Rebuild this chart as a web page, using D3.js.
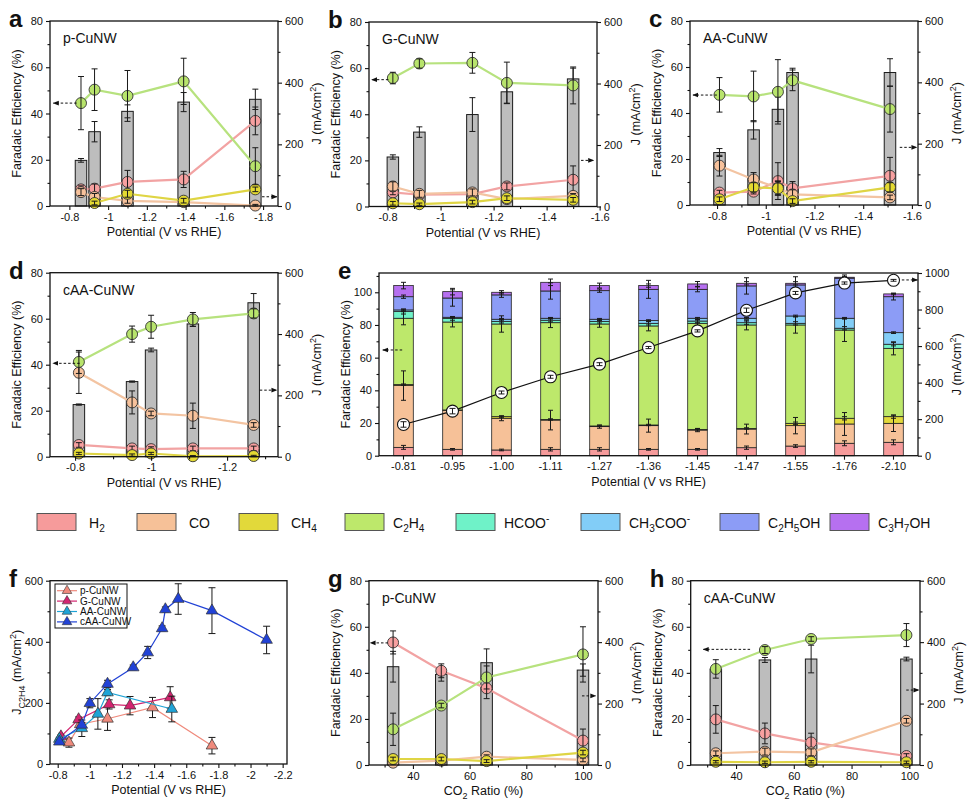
<!DOCTYPE html>
<html>
<head>
<meta charset="utf-8">
<script src="https://cdn.jsdelivr.net/npm/d3@7"></script>
<style>
  body { margin: 0; background: #fff; }
  text { font-family: "Liberation Sans", Arial, sans-serif; fill: #111; }
</style>
</head>
<body>
<svg id="fig" width="974" height="812"></svg>
<script>
// ---- data ----
const FE_KEYS = ["H2", "CO", "CH4", "C2H4"];
const PRODUCTS = ["H2", "CO", "CH4", "C2H4", "HCOO", "CH3COO", "C2H5OH", "C3H7OH"];
const PRODUCT_LABELS = ["H_2", "CO", "CH_4", "C_2H_4", "HCOO^-", "CH_3COO^-", "C_2H_5OH", "C_3H_7OH"];

// a: p-CuNW
const aPot = [-0.86, -0.93, -1.10, -1.39, -1.76];
const aJ = [148, 241, 307, 337, 346];
const aJErr = [6, 33, 21, 31, 33];
const aH2 = [7.2, 7.5, 10.4, 11.5, 36.8];
const aH2Err = [1.5, 2, 5, 3.5, 6];
const aCO = [6.0, 3.9, 2.2, 1.7, 0.2];
const aCOErr = [1.5, 1.5, 1, 1, 0.5];
const aCH4 = [null, 1.3, 5.3, 2.3, 7.2];
const aCH4Err = [0, 0.8, 1.5, 1, 1];
const aC2H4 = [44.5, 50.3, 47.6, 53.9, 17.2];
const aC2H4Err = [11.5, 9, 11, 10, 8];

// b: G-CuNW
const bPot = [-0.82, -0.92, -1.12, -1.25, -1.50];
const bJ = [161, 242, 299, 373, 415];
const bJErr = [7, 17, 55, 37, 35];
const bH2 = [6.1, 5.1, 5.4, 8.7, 11.6];
const bH2Err = [1, 1, 1, 1.5, 6];
const bCO = [8.7, 5.5, 6.1, 3.2, 4.6];
const bCOErr = [2, 1.5, 1.5, 1, 1];
const bCH4 = [1.4, 1.0, 1.9, 3.6, 2.9];
const bCH4Err = [0.8, 0.5, 0.8, 1, 1];
const bC2H4 = [55.7, 62.0, 62.3, 53.6, 52.5];
const bC2H4Err = [2.5, 2, 4.5, 9, 8];

// c: AA-CuNW
const cPot = [-0.81, -0.95, -1.05, -1.11, -1.51];
const cJ = [171, 245, 312, 432, 432];
const cJErr = [13, 30, 40, 14, 45];
const cH2 = [5.4, 5.8, 10.4, 7.2, 12.7];
const cH2Err = [1, 1, 8, 3, 8];
const cCO = [17.1, 11.1, 7.5, 4.6, 3.3];
const cCOErr = [4.5, 3, 3, 2, 1];
const cCH4 = [2.5, 7.7, 7.2, 1.7, 7.7];
const cCH4Err = [1, 2, 3, 1, 2];
const cC2H4 = [47.9, 47.2, 49.2, 54.2, 41.7];
const cC2H4Err = [7.5, 11, 14, 4.5, 10];

// d: cAA-CuNW
const dPot = [-0.81, -0.95, -1.00, -1.11, -1.27];
const dJ = [170, 245, 348, 433, 502];
const dJErr = [2, 2, 6, 8, 30];
const dH2 = [5.1, 3.6, 3.3, 3.6, 3.6];
const dH2Err = [1, 1, 1, 1, 1];
const dCO = [36.5, 23.6, 18.8, 17.8, 13.8];
const dCOErr = [9, 5, 1, 5.5, 1];
const dCH4 = [1.4, 0.7, 1.4, 0.2, 0.3];
const dCH4Err = [0.5, 0.5, 0.5, 0.3, 0.3];
const dC2H4 = [41.2, 53.3, 56.5, 59.7, 62.3];
const dC2H4Err = [5, 3.5, 5, 3, 2];

// e: cAA-CuNW full product distribution
const ePot = ["-0.81", "-0.95", "-1.00", "-1.11", "-1.27", "-1.36", "-1.45", "-1.47", "-1.55", "-1.76", "-2.10"];
const eH2 = [5.1, 3.9, 3.5, 3.9, 3.9, 3.9, 3.9, 4.9, 5.9, 7.6, 8.2];
const eCO = [37.8, 23.7, 19.4, 17.9, 13.9, 14.5, 11.8, 11.4, 12.5, 11.8, 11.6];
const eCH4 = [0.6, 0.4, 1.0, 0.4, 0.4, 0.4, 0.4, 0.4, 1.4, 3.5, 4.1];
const eC2H4 = [40.6, 53.8, 56.7, 59.2, 62.4, 60.6, 64.9, 63.3, 60.2, 54.0, 41.8];
const eHCOO = [4.1, 2.1, 1.6, 1.5, 1.6, 1.6, 1.4, 1.4, 1.0, 1.1, 2.5];
const eCH3COO = [1.0, 0.8, 1.3, 1.2, 1.3, 1.7, 1.7, 2.7, 4.5, 6.1, 7.1];
const eC2H5OH = [8.1, 11.8, 14.9, 16.7, 17.5, 19.1, 17.7, 19.8, 19.0, 24.5, 22.0];
const eC3H7OH = [6.8, 3.9, 1.6, 5.3, 3.1, 2.3, 3.3, 1.6, 1.0, 0.6, 1.7];
const eH2Err = [1.2, 0.5, 0.5, 1, 1, 0.5, 0.5, 1, 0.8, 1.5, 1.5];
const eCOErr = [9, 2.5, 1.5, 6, 1, 4, 1, 3, 5, 7, 5];
const eCH4Err = [0.4, 0.4, 0.4, 0.4, 0.4, 0.4, 0.4, 0.4, 0.8, 1, 1];
const eC2H4Err = [4, 3, 5, 3, 2, 3, 2, 3, 5, 7, 4];
const eHCOOErr = [1.5, 1, 1, 1, 1, 1, 1, 1, 1, 1, 1];
const eCH3COOErr = [0.5, 0.5, 0.5, 0.5, 0.5, 0.5, 0.5, 0.5, 0.5, 0.5, 0.5];
const eC2H5OHErr = [1, 5, 1.5, 5, 1, 5.5, 1.5, 5, 5, 2, 2];
const eC3H7OHErr = [2, 2, 1, 2, 1.5, 1, 1.5, 1, 1, 0.5, 0.5];
const eJ = [171, 244, 346, 432, 501, 592, 683, 796, 891, 945, 960];
const eJErr = [15, 15, 8, 8, 8, 6, 6, 12, 8, 6, 5];

// f: partial current density of C2H4
const fpPot = [-0.87, -0.94, -1.11, -1.39, -1.76];
const fpJ = [70, 130, 148, 185, 60];
const fpErr = [15, 8, 38, 33, 27];
const fgPot = [-0.82, -0.93, -1.12, -1.25, -1.50];
const fgJ = [90, 146, 195, 191, 218];
const fgErr = [5, 8, 15, 30, 35];
const faPot = [-0.81, -0.95, -1.05, -1.11, -1.51];
const faJ = [82, 117, 164, 234, 180];
const faErr = [5, 27, 50, 10, 42];
const fcPot = [-0.81, -0.95, -1.00, -1.11, -1.27, -1.36, -1.45, -1.47, -1.55, -1.76, -2.10];
const fcJ = [73, 128, 199, 262, 316, 365, 444, 506, 540, 502, 406];
const fcErr = [5, 8, 15, 12, 8, 20, 8, 8, 50, 75, 45];

// g: p-CuNW vs CO2 ratio
const gRatio = [33, 50, 66, 100];
const gJ = [320, 295, 333, 309];
const gJErr = [50, 22, 45, 20];
const gH2 = [53.2, 40.9, 33.3, 10.6];
const gH2Err = [5, 3, 4.5, 5];
const gCO = [1.0, 1.9, 3.6, 2.2];
const gCOErr = [0.5, 0.5, 0.8, 0.8];
const gCH4 = [2.6, 2.6, 1.7, 5.4];
const gCH4Err = [0.8, 0.8, 0.6, 1];
const gC2H4 = [15.5, 25.8, 38.0, 48.0];
const gC2H4Err = [7, 1, 5, 12];

// h: cAA-CuNW vs CO2 ratio
const hRatio = [33, 50, 66, 99];
const hJ = [312, 342, 345, 345];
const hJErr = [8, 8, 45, 6];
const hH2 = [19.8, 13.7, 9.8, 3.9];
const hH2Err = [6, 4.5, 4, 1];
const hCO = [5.1, 5.8, 5.5, 19.2];
const hCOErr = [1, 1.5, 1.5, 1];
const hCH4 = [1.4, 1.2, 1.4, 1.2];
const hCH4Err = [0.5, 0.5, 0.5, 0.5];
const hC2H4 = [41.7, 49.9, 54.7, 56.4];
const hC2H4Err = [4, 1.5, 1, 5];

// ---- styles ----
const feStyle = {
  H2:   { fill: "#f7a0a0", line: "#f2a3a3" },
  CO:   { fill: "#f6c19b", line: "#f3c4a2" },
  CH4:  { fill: "#e4da32", line: "#dfd544" },
  C2H4: { fill: "#b8e46c", line: "#b7e27e" }
};
const productColors = ["#f69b9b", "#f6c198", "#e2d93a", "#bde86b", "#6ff2c8", "#82cdf7", "#8c9cf6", "#b670f0"];

const svg = d3.select("#fig");
svg.append("rect").attr("width", 974).attr("height", 812).attr("fill", "#fff");
svg.append("defs").append("marker")
  .attr("id", "ah").attr("viewBox", "0 0 10 10").attr("refX", 9).attr("refY", 5)
  .attr("markerWidth", 6).attr("markerHeight", 6).attr("orient", "auto")
  .append("path").attr("d", "M0,1 L10,5 L0,9 Z").attr("fill", "#111");

// text with _sub and ^sup
function rich(sel, str, size) {
  const re = /([_^])(.)|([^_^]+)/g;
  let m, shift = 0;
  while ((m = re.exec(str))) {
    let target = 0, txt, small = false;
    if (m[1]) { txt = m[2]; target = m[1] === "_" ? size * 0.3 : -size * 0.4; small = true; }
    else txt = m[3];
    const t = sel.append("tspan").text(txt).attr("dy", target - shift);
    if (small) t.attr("font-size", size * 0.72);
    shift = target;
  }
  return sel;
}

function errBars(g, data, px, py, top, bot, cap) {
  g.selectAll(null).data(data.filter(d => d.e > 0)).join("path")
    .attr("d", d => {
      const X = px(d), a = py(top(d)), b = py(bot(d));
      return `M${X},${a}V${b}M${X - cap},${a}H${X + cap}M${X - cap},${b}H${X + cap}`;
    })
    .attr("fill", "none").attr("stroke", "#1a1a1a").attr("stroke-width", 1);
}

function axis(g, gen, tr) {
  const a = g.append("g").attr("transform", tr).call(gen);
  a.select(".domain").remove();
  a.selectAll("line").attr("stroke", "#111").attr("stroke-width", 1.1);
  a.selectAll("text").attr("font-size", 11).attr("fill", "#111")
    .attr("font-family", "Liberation Sans, Arial, sans-serif");
  return a;
}

function frame(g, c) {
  g.append("rect").attr("x", c.L).attr("y", c.T).attr("width", c.R - c.L).attr("height", c.B - c.T)
    .attr("fill", "none").attr("stroke", "#111").attr("stroke-width", 1.3);
}

function arrow(g, x1, x2, y) {
  g.append("line").attr("x1", x1).attr("x2", x2).attr("y1", y).attr("y2", y)
    .attr("stroke", "#111").attr("stroke-width", 1).attr("stroke-dasharray", "2.5,2")
    .attr("marker-end", "url(#ah)");
}

function letter(g, c, s) {
  g.append("text").attr("x", c.L - 41).attr("y", c.T + 6)
    .attr("font-size", 24).attr("font-weight", "bold").text(s);
}

function titles(g, c, xTitle, yLeft, yRight) {
  rich(g.append("text").attr("x", (c.L + c.R) / 2).attr("y", c.B + 30)
    .attr("text-anchor", "middle").attr("font-size", 12.5), xTitle, 12.5);
  rich(g.append("text").attr("transform", `translate(${c.L - 29},${(c.T + c.B) / 2}) rotate(-90)`)
    .attr("text-anchor", "middle").attr("font-size", 12.5), yLeft, 12.5);
  if (yRight) rich(g.append("text").attr("transform", `translate(${c.R + 43},${(c.T + c.B) / 2}) rotate(-90)`)
    .attr("text-anchor", "middle").attr("font-size", 12.5), yRight, 12.5);
}

const plain = d => String(d);

function dualPanel(c) {
  const g = svg.append("g");
  const x = d3.scaleLinear().domain(c.xDomain).range([c.L, c.R]);
  const yF = d3.scaleLinear().domain([0, 80]).range([c.B, c.T]);
  const yJ = d3.scaleLinear().domain([0, 600]).range([c.B, c.T]);

  const bars = c.xs.map((v, i) => ({ x: v, v: c.J[i], e: c.JErr[i] }));
  g.selectAll(".bar").data(bars).join("rect").attr("class", "bar")
    .attr("x", d => x(d.x) - 5.75).attr("width", 11.5)
    .attr("y", d => yJ(d.v)).attr("height", d => yJ(0) - yJ(d.v))
    .attr("fill", "#bdbdbd").attr("stroke", "#1a1a1a").attr("stroke-width", 1);
  errBars(g, bars, d => x(d.x), yJ, d => d.v + d.e, d => d.v - d.e, 3);

  FE_KEYS.forEach(k => {
    const vals = c.fe[k][0], errs = c.fe[k][1];
    const pts = c.xs.map((v, i) => ({ x: v, v: vals[i], e: errs[i] })).filter(d => d.v != null);
    g.append("path").datum(pts)
      .attr("d", d3.line().x(d => x(d.x)).y(d => yF(d.v)))
      .attr("fill", "none").attr("stroke", feStyle[k].line).attr("stroke-width", 2.2);
    g.selectAll(null).data(pts).join("circle")
      .attr("cx", d => x(d.x)).attr("cy", d => yF(d.v)).attr("r", 5.5)
      .attr("fill", feStyle[k].fill).attr("stroke", "#333").attr("stroke-width", 0.9);
    errBars(g, pts, d => x(d.x), yF, d => d.v + d.e, d => Math.max(0, d.v - d.e), 3);
  });

  frame(g, c);
  axis(g, d3.axisBottom(x).tickValues(c.xTicks).tickFormat(plain).tickSize(4).tickSizeOuter(0), `translate(0,${c.B})`);
  axis(g, d3.axisBottom(x).tickValues(c.xMinor).tickFormat("").tickSize(2.5).tickSizeOuter(0), `translate(0,${c.B})`);
  axis(g, d3.axisLeft(yF).tickValues([0, 20, 40, 60, 80]).tickFormat(plain).tickSize(4).tickSizeOuter(0), `translate(${c.L},0)`);
  axis(g, d3.axisLeft(yF).tickValues([10, 30, 50, 70]).tickFormat("").tickSize(2.5).tickSizeOuter(0), `translate(${c.L},0)`);
  axis(g, d3.axisRight(yJ).tickValues([0, 200, 400, 600]).tickFormat(plain).tickSize(4).tickSizeOuter(0), `translate(${c.R},0)`);
  axis(g, d3.axisRight(yJ).tickValues([100, 300, 500]).tickFormat("").tickSize(2.5).tickSizeOuter(0), `translate(${c.R},0)`);

  const w = c.R - c.L;
  arrow(g, c.L + w * c.arrowL[1], c.L + w * c.arrowL[2], yF(c.arrowL[0]));
  arrow(g, c.L + w * c.arrowR[1], c.L + w * c.arrowR[2], yJ(c.arrowR[0]));

  g.append("text").attr("x", c.L + 13).attr("y", c.T + 22).attr("font-size", 14).text(c.name);
  letter(g, c, c.letter);
  titles(g, c, c.xTitle, "Faradaic Efficiency (%)", "J (mA/cm^2)");
}

const potTitle = "Potential (V vs RHE)";
const ratioTitle = "CO_2 Ratio (%)";

dualPanel({
  L: 50, R: 278, T: 21, B: 206, xDomain: [-0.70, -1.877],
  xTicks: [-0.8, -1, -1.2, -1.4, -1.6, -1.8], xMinor: [-0.9, -1.1, -1.3, -1.5, -1.7],
  xs: aPot, J: aJ, JErr: aJErr,
  fe: { H2: [aH2, aH2Err], CO: [aCO, aCOErr], CH4: [aCH4, aCH4Err], C2H4: [aC2H4, aC2H4Err] },
  name: "p-CuNW", letter: "a", xTitle: potTitle,
  arrowL: [44.5, 0.117, 0.015], arrowR: [30, 0.93, 0.995]
});
dualPanel({
  L: 369, R: 597, T: 22, B: 206.5, xDomain: [-0.73, -1.59],
  xTicks: [-0.8, -1, -1.2, -1.4, -1.6], xMinor: [-0.9, -1.1, -1.3, -1.5],
  xs: bPot, J: bJ, JErr: bJErr,
  fe: { H2: [bH2, bH2Err], CO: [bCO, bCOErr], CH4: [bCH4, bCH4Err], C2H4: [bC2H4, bC2H4Err] },
  name: "G-CuNW", letter: "b", xTitle: potTitle,
  arrowL: [55, 0.085, 0.012], arrowR: [150, 0.93, 0.985]
});
dualPanel({
  L: 690, R: 918, T: 21, B: 205, xDomain: [-0.689, -1.625],
  xTicks: [-0.8, -1, -1.2, -1.4, -1.6], xMinor: [-0.9, -1.1, -1.3, -1.5],
  xs: cPot, J: cJ, JErr: cJErr,
  fe: { H2: [cH2, cH2Err], CO: [cCO, cCOErr], CH4: [cCH4, cCH4Err], C2H4: [cC2H4, cC2H4Err] },
  name: "AA-CuNW", letter: "c", xTitle: potTitle,
  arrowL: [47.8, 0.118, 0.013], arrowR: [188, 0.92, 0.995]
});
dualPanel({
  L: 50, R: 278, T: 272.7, B: 456.7, xDomain: [-0.734, -1.334],
  xTicks: [-0.8, -1, -1.2], xMinor: [-0.9, -1.1, -1.3],
  xs: dPot, J: dJ, JErr: dJErr,
  fe: { H2: [dH2, dH2Err], CO: [dCO, dCOErr], CH4: [dCH4, dCH4Err], C2H4: [dC2H4, dC2H4Err] },
  name: "cAA-CuNW", letter: "d", xTitle: potTitle,
  arrowL: [40.6, 0.13, 0.013], arrowR: [217, 0.92, 0.995]
});
dualPanel({
  L: 369, R: 598, T: 580.7, B: 765, xDomain: [24.5, 105.3],
  xTicks: [40, 60, 80, 100], xMinor: [30, 50, 70, 90],
  xs: gRatio, J: gJ, JErr: gJErr,
  fe: { H2: [gH2, gH2Err], CO: [gCO, gCOErr], CH4: [gCH4, gCH4Err], C2H4: [gC2H4, gC2H4Err] },
  name: "p-CuNW", letter: "g", xTitle: ratioTitle,
  arrowL: [53, 0.083, 0.005], arrowR: [225, 0.93, 0.99]
});
dualPanel({
  L: 690.7, R: 920, T: 580.7, B: 765, xDomain: [24.3, 103.7],
  xTicks: [40, 60, 80, 100], xMinor: [30, 50, 70, 90],
  xs: hRatio, J: hJ, JErr: hJErr,
  fe: { H2: [hH2, hH2Err], CO: [hCO, hCOErr], CH4: [hCH4, hCH4Err], C2H4: [hC2H4, hC2H4Err] },
  name: "cAA-CuNW", letter: "h", xTitle: ratioTitle,
  arrowL: [50.2, 0.259, 0.055], arrowR: [244, 0.94, 0.995]
});

// ---- panel e: stacked FE + J ----
(function () {
  const c = { L: 379, R: 918, T: 273, B: 455.7 };
  const g = svg.append("g");
  const x = d3.scaleBand().domain(ePot).range([c.L, c.R]).paddingInner(0.6).paddingOuter(0.3);
  const yF = d3.scaleLinear().domain([0, 111.8]).range([c.B, c.T]);
  const yJ = d3.scaleLinear().domain([0, 1000]).range([c.B, c.T]);
  const vals = [eH2, eCO, eCH4, eC2H4, eHCOO, eCH3COO, eC2H5OH, eC3H7OH];
  const errs = [eH2Err, eCOErr, eCH4Err, eC2H4Err, eHCOOErr, eCH3COOErr, eC2H5OHErr, eC3H7OHErr];
  const rows = ePot.map((p, i) => {
    const r = { pot: p };
    PRODUCTS.forEach((k, j) => { r[k] = vals[j][i]; });
    return r;
  });
  const stacked = d3.stack().keys(PRODUCTS)(rows);
  stacked.forEach((layer, j) => {
    g.selectAll(null).data(layer).join("rect")
      .attr("x", d => x(d.data.pot)).attr("width", x.bandwidth())
      .attr("y", d => yF(d[1])).attr("height", d => yF(d[0]) - yF(d[1]))
      .attr("fill", productColors[j]).attr("stroke", "#222").attr("stroke-width", 0.8);
  });
  stacked.forEach((layer, j) => {
    const pts = layer.map((d, i) => ({ p: d.data.pot, v: d[1], e: errs[j][i] }));
    errBars(g, pts, d => x(d.p) + x.bandwidth() / 2, yF, d => d.v + d.e, d => d.v - d.e, 2.5);
  });
  const jp = ePot.map((p, i) => ({ p: p, v: eJ[i], e: eJErr[i] }));
  const cx = d => x(d.p) + x.bandwidth() / 2;
  g.append("path").datum(jp).attr("d", d3.line().x(cx).y(d => yJ(d.v)))
    .attr("fill", "none").attr("stroke", "#111").attr("stroke-width", 1.2);
  g.selectAll(null).data(jp).join("circle")
    .attr("cx", cx).attr("cy", d => yJ(d.v)).attr("r", 6)
    .attr("fill", "#fff").attr("stroke", "#111").attr("stroke-width", 1.1);
  errBars(g, jp, cx, yJ, d => d.v + d.e, d => d.v - d.e, 3);

  frame(g, c);
  axis(g, d3.axisBottom(x).tickSize(4).tickSizeOuter(0), `translate(0,${c.B})`);
  axis(g, d3.axisLeft(yF).tickValues([0, 20, 40, 60, 80, 100]).tickFormat(plain).tickSize(4).tickSizeOuter(0), `translate(${c.L},0)`);
  axis(g, d3.axisLeft(yF).tickValues([10, 30, 50, 70, 90, 110]).tickFormat("").tickSize(2.5).tickSizeOuter(0), `translate(${c.L},0)`);
  axis(g, d3.axisRight(yJ).tickValues([0, 200, 400, 600, 800, 1000]).tickFormat(plain).tickSize(4).tickSizeOuter(0), `translate(${c.R},0)`);
  axis(g, d3.axisRight(yJ).tickValues([100, 300, 500, 700, 900]).tickFormat("").tickSize(2.5).tickSizeOuter(0), `translate(${c.R},0)`);
  const w = c.R - c.L;
  arrow(g, c.L + w * 0.043, c.L + w * 0.007, yF(64.7));
  arrow(g, c.L + w * 0.97, c.L + w * 0.999, yJ(962));
  letter(g, c, "e");
  titles(g, c, potTitle, "Faradaic Efficiency (%)", "J (mA/cm^2)");
})();

// ---- legend row ----
(function () {
  const g = svg.append("g");
  const swatchX = [37, 137, 239, 345, 456, 581, 720, 830];
  PRODUCTS.forEach((k, i) => {
    g.append("rect").attr("x", swatchX[i]).attr("y", 513.5).attr("width", 39).attr("height", 17)
      .attr("fill", productColors[i]).attr("stroke", "#555").attr("stroke-width", 1);
    rich(g.append("text").attr("x", swatchX[i] + 52 - (i > 2 ? 4 : 0)).attr("y", 527.5).attr("font-size", 14),
      PRODUCT_LABELS[i], 14);
  });
})();

// ---- panel f: J_C2H4 ----
(function () {
  const c = { L: 50, R: 287, T: 580.7, B: 764 };
  const g = svg.append("g");
  const x = d3.scaleLinear().domain([-0.752, -2.227]).range([c.L, c.R]);
  const y = d3.scaleLinear().domain([0, 600]).range([c.B, c.T]);
  const series = [
    { name: "p-CuNW", pot: fpPot, J: fpJ, err: fpErr, color: "#ef8a7c" },
    { name: "G-CuNW", pot: fgPot, J: fgJ, err: fgErr, color: "#d3246f" },
    { name: "AA-CuNW", pot: faPot, J: faJ, err: faErr, color: "#1ea3d6" },
    { name: "cAA-CuNW", pot: fcPot, J: fcJ, err: fcErr, color: "#2142d6" }
  ];
  const tri = d3.symbol().type(d3.symbolTriangle).size(58);
  series.forEach(s => {
    const pts = s.pot.map((p, i) => ({ x: p, v: s.J[i], e: s.err[i] }));
    g.append("path").datum(pts).attr("d", d3.line().x(d => x(d.x)).y(d => y(d.v)))
      .attr("fill", "none").attr("stroke", s.color).attr("stroke-width", 1.2);
    errBars(g, pts, d => x(d.x), y, d => d.v + d.e, d => d.v - d.e, 3.5);
    g.selectAll(null).data(pts).join("path").attr("d", tri)
      .attr("transform", d => `translate(${x(d.x)},${y(d.v)})`)
      .attr("fill", s.color).attr("stroke", "#333").attr("stroke-width", 0.7);
  });
  frame(g, c);
  axis(g, d3.axisBottom(x).tickValues([-0.8, -1, -1.2, -1.4, -1.6, -1.8, -2, -2.2]).tickFormat(plain).tickSize(4).tickSizeOuter(0), `translate(0,${c.B})`);
  axis(g, d3.axisBottom(x).tickValues([-0.9, -1.1, -1.3, -1.5, -1.7, -1.9, -2.1]).tickFormat("").tickSize(2.5).tickSizeOuter(0), `translate(0,${c.B})`);
  axis(g, d3.axisLeft(y).tickValues([0, 200, 400, 600]).tickFormat(plain).tickSize(4).tickSizeOuter(0), `translate(${c.L},0)`);
  axis(g, d3.axisLeft(y).tickValues([100, 300, 500]).tickFormat("").tickSize(2.5).tickSizeOuter(0), `translate(${c.L},0)`);

  // legend box
  const lg = g.append("g");
  lg.append("rect").attr("x", 55).attr("y", 584).attr("width", 72).attr("height", 44)
    .attr("fill", "#fff").attr("stroke", "#111").attr("stroke-width", 1);
  series.forEach((s, i) => {
    const yy = 590.7 + i * 10.4;
    lg.append("line").attr("x1", 57).attr("x2", 77).attr("y1", yy).attr("y2", yy)
      .attr("stroke", s.color).attr("stroke-width", 1.2);
    lg.append("path").attr("d", d3.symbol().type(d3.symbolTriangle).size(40))
      .attr("transform", `translate(67,${yy})`).attr("fill", s.color).attr("stroke", "#333").attr("stroke-width", 0.6);
    lg.append("text").attr("x", 80).attr("y", yy + 3.5).attr("font-size", 10).text(s.name);
  });
  letter(g, c, "f");
  titles(g, c, potTitle, "J_C_2_H_4 (mA/cm^2)", null);
})();
</script>
</body>
</html>
